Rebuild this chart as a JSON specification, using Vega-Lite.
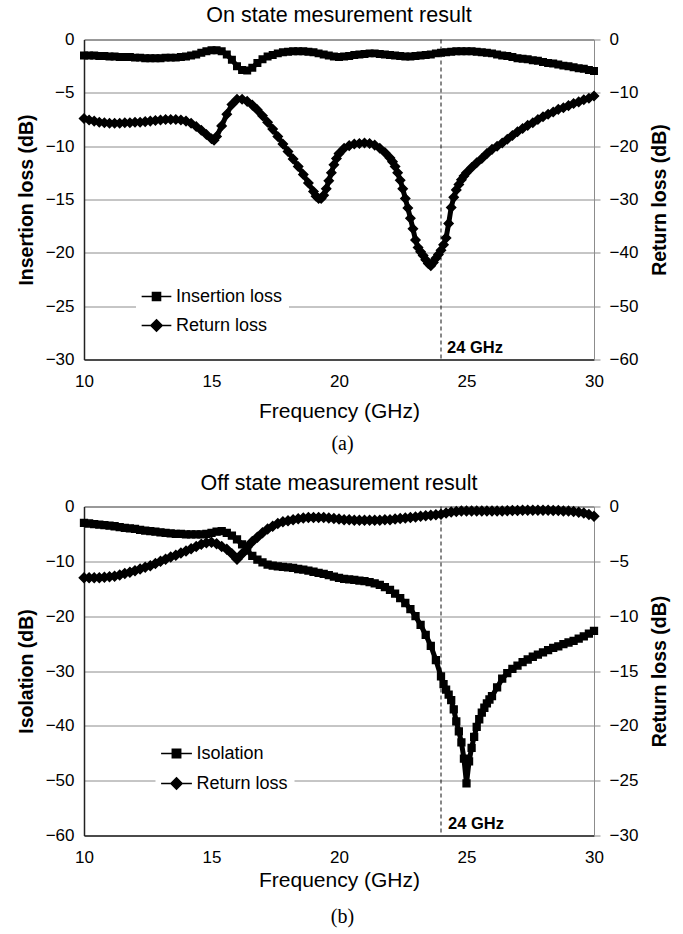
{
  "$schema": "https://vega.github.io/schema/vega-lite/v6.json",
  "background": "white",
  "padding": {"left": 16, "top": 4.5, "right": 5, "bottom": 5},
  "config": {
    "view": {"stroke": null},
    "font": "Liberation Sans",
    "axis": {"labelColor": "black", "titleColor": "black", "labelFont": "Liberation Sans", "titleFont": "Liberation Sans"},
    "title": {"fontSize": 21.5, "fontWeight": "normal", "color": "black", "font": "Liberation Sans"}
  },
  "datasets": {
    "a_il": [
      {"f":10.0,"v":-1.5},{"f":10.2,"v":-1.5},{"f":10.4,"v":-1.5},{"f":10.6,"v":-1.55},{"f":10.8,"v":-1.55},
      {"f":11.0,"v":-1.6},{"f":11.2,"v":-1.6},{"f":11.4,"v":-1.65},{"f":11.6,"v":-1.65},{"f":11.8,"v":-1.65},
      {"f":12.0,"v":-1.7},{"f":12.2,"v":-1.7},{"f":12.4,"v":-1.75},{"f":12.6,"v":-1.75},{"f":12.8,"v":-1.75},
      {"f":13.0,"v":-1.75},{"f":13.2,"v":-1.7},{"f":13.4,"v":-1.7},{"f":13.6,"v":-1.7},{"f":13.8,"v":-1.65},
      {"f":14.0,"v":-1.6},{"f":14.2,"v":-1.5},{"f":14.4,"v":-1.4},{"f":14.6,"v":-1.25},{"f":14.8,"v":-1.1},
      {"f":15.0,"v":-1.0},{"f":15.2,"v":-1.0},{"f":15.4,"v":-1.1},{"f":15.6,"v":-1.4},{"f":15.8,"v":-1.9},
      {"f":16.0,"v":-2.5},{"f":16.2,"v":-2.85},{"f":16.4,"v":-2.9},{"f":16.6,"v":-2.65},{"f":16.8,"v":-2.2},
      {"f":17.0,"v":-1.85},{"f":17.2,"v":-1.6},{"f":17.4,"v":-1.45},{"f":17.6,"v":-1.3},{"f":17.8,"v":-1.2},
      {"f":18.0,"v":-1.15},{"f":18.2,"v":-1.1},{"f":18.4,"v":-1.1},{"f":18.6,"v":-1.1},{"f":18.8,"v":-1.15},
      {"f":19.0,"v":-1.2},{"f":19.2,"v":-1.3},{"f":19.4,"v":-1.4},{"f":19.6,"v":-1.5},{"f":19.8,"v":-1.6},
      {"f":20.0,"v":-1.65},{"f":20.2,"v":-1.6},{"f":20.4,"v":-1.55},{"f":20.6,"v":-1.45},{"f":20.8,"v":-1.4},
      {"f":21.0,"v":-1.35},{"f":21.2,"v":-1.3},{"f":21.4,"v":-1.3},{"f":21.6,"v":-1.35},{"f":21.8,"v":-1.4},
      {"f":22.0,"v":-1.45},{"f":22.2,"v":-1.5},{"f":22.4,"v":-1.55},{"f":22.6,"v":-1.6},{"f":22.8,"v":-1.6},
      {"f":23.0,"v":-1.55},{"f":23.2,"v":-1.5},{"f":23.4,"v":-1.45},{"f":23.6,"v":-1.4},{"f":23.8,"v":-1.3},
      {"f":24.0,"v":-1.25},{"f":24.2,"v":-1.2},{"f":24.4,"v":-1.15},{"f":24.6,"v":-1.1},{"f":24.8,"v":-1.1},
      {"f":25.0,"v":-1.1},{"f":25.2,"v":-1.1},{"f":25.4,"v":-1.15},{"f":25.6,"v":-1.2},{"f":25.8,"v":-1.25},
      {"f":26.0,"v":-1.3},{"f":26.2,"v":-1.4},{"f":26.4,"v":-1.5},{"f":26.6,"v":-1.55},{"f":26.8,"v":-1.65},
      {"f":27.0,"v":-1.75},{"f":27.2,"v":-1.8},{"f":27.4,"v":-1.85},{"f":27.6,"v":-1.95},{"f":27.8,"v":-2.0},
      {"f":28.0,"v":-2.1},{"f":28.2,"v":-2.2},{"f":28.4,"v":-2.25},{"f":28.6,"v":-2.35},{"f":28.8,"v":-2.45},
      {"f":29.0,"v":-2.5},{"f":29.2,"v":-2.6},{"f":29.4,"v":-2.7},{"f":29.6,"v":-2.75},{"f":29.8,"v":-2.85},
      {"f":30.0,"v":-2.95}
    ],
    "a_rl": [
      {"f":10.0,"v":-14.8},{"f":10.2,"v":-15.1},{"f":10.4,"v":-15.3},{"f":10.6,"v":-15.5},{"f":10.8,"v":-15.6},
      {"f":11.0,"v":-15.7},{"f":11.2,"v":-15.7},{"f":11.4,"v":-15.7},{"f":11.6,"v":-15.6},{"f":11.8,"v":-15.6},
      {"f":12.0,"v":-15.5},{"f":12.2,"v":-15.5},{"f":12.4,"v":-15.4},{"f":12.6,"v":-15.3},{"f":12.8,"v":-15.2},
      {"f":13.0,"v":-15.1},{"f":13.2,"v":-15.0},{"f":13.4,"v":-15.0},{"f":13.6,"v":-15.0},{"f":13.8,"v":-15.1},
      {"f":14.0,"v":-15.3},{"f":14.2,"v":-15.7},{"f":14.4,"v":-16.3},{"f":14.6,"v":-17.0},{"f":14.8,"v":-17.8},
      {"f":15.0,"v":-18.6},{"f":15.1,"v":-18.9},{"f":15.2,"v":-18.2},{"f":15.4,"v":-16.2},{"f":15.6,"v":-14.0},
      {"f":15.8,"v":-12.2},{"f":16.0,"v":-11.2},{"f":16.2,"v":-11.2},{"f":16.4,"v":-11.6},{"f":16.6,"v":-12.3},
      {"f":16.8,"v":-13.2},{"f":17.0,"v":-14.3},{"f":17.2,"v":-15.5},{"f":17.4,"v":-16.8},{"f":17.6,"v":-18.2},
      {"f":17.8,"v":-19.6},{"f":18.0,"v":-21.0},{"f":18.2,"v":-22.4},{"f":18.4,"v":-23.8},{"f":18.6,"v":-25.3},
      {"f":18.8,"v":-26.9},{"f":19.0,"v":-28.5},{"f":19.1,"v":-29.4},{"f":19.2,"v":-29.8},{"f":19.3,"v":-29.8},
      {"f":19.4,"v":-29.2},{"f":19.5,"v":-28.0},{"f":19.6,"v":-26.5},{"f":19.7,"v":-25.0},{"f":19.8,"v":-23.5},
      {"f":19.9,"v":-22.3},{"f":20.0,"v":-21.4},{"f":20.2,"v":-20.4},{"f":20.4,"v":-19.9},{"f":20.6,"v":-19.6},
      {"f":20.8,"v":-19.5},{"f":21.0,"v":-19.4},{"f":21.2,"v":-19.5},{"f":21.4,"v":-19.8},{"f":21.6,"v":-20.4},
      {"f":21.8,"v":-21.2},{"f":22.0,"v":-22.2},{"f":22.1,"v":-22.9},{"f":22.2,"v":-23.8},{"f":22.3,"v":-25.0},
      {"f":22.4,"v":-26.4},{"f":22.5,"v":-28.0},{"f":22.6,"v":-29.8},{"f":22.7,"v":-31.6},{"f":22.8,"v":-33.5},
      {"f":22.9,"v":-35.5},{"f":23.0,"v":-37.6},{"f":23.1,"v":-39.0},{"f":23.2,"v":-39.8},{"f":23.3,"v":-40.5},
      {"f":23.4,"v":-41.3},{"f":23.5,"v":-42.0},{"f":23.6,"v":-42.4},{"f":23.7,"v":-41.8},{"f":23.8,"v":-41.0},
      {"f":23.9,"v":-40.3},{"f":24.0,"v":-39.5},{"f":24.1,"v":-38.5},{"f":24.2,"v":-37.2},{"f":24.3,"v":-34.5},
      {"f":24.4,"v":-31.5},{"f":24.5,"v":-29.6},{"f":24.6,"v":-28.2},{"f":24.7,"v":-27.2},{"f":24.8,"v":-26.3},
      {"f":24.9,"v":-25.6},{"f":25.0,"v":-25.0},{"f":25.2,"v":-24.0},{"f":25.4,"v":-23.1},{"f":25.6,"v":-22.3},
      {"f":25.8,"v":-21.4},{"f":26.0,"v":-20.6},{"f":26.2,"v":-20.0},{"f":26.4,"v":-19.4},{"f":26.6,"v":-18.7},
      {"f":26.8,"v":-18.0},{"f":27.0,"v":-17.3},{"f":27.2,"v":-16.7},{"f":27.4,"v":-16.1},{"f":27.6,"v":-15.6},
      {"f":27.8,"v":-15.0},{"f":28.0,"v":-14.5},{"f":28.2,"v":-14.0},{"f":28.4,"v":-13.6},{"f":28.6,"v":-13.1},
      {"f":28.8,"v":-12.8},{"f":29.0,"v":-12.4},{"f":29.2,"v":-12.0},{"f":29.4,"v":-11.7},{"f":29.6,"v":-11.3},
      {"f":29.8,"v":-11.0},{"f":30.0,"v":-10.6}
    ],
    "b_iso": [
      {"f":10.0,"v":-3.0},{"f":10.2,"v":-3.1},{"f":10.4,"v":-3.2},{"f":10.6,"v":-3.3},{"f":10.8,"v":-3.4},
      {"f":11.0,"v":-3.5},{"f":11.2,"v":-3.6},{"f":11.4,"v":-3.75},{"f":11.6,"v":-3.9},{"f":11.8,"v":-4.0},
      {"f":12.0,"v":-4.1},{"f":12.2,"v":-4.25},{"f":12.4,"v":-4.4},{"f":12.6,"v":-4.5},{"f":12.8,"v":-4.6},
      {"f":13.0,"v":-4.7},{"f":13.2,"v":-4.8},{"f":13.4,"v":-4.9},{"f":13.6,"v":-5.0},{"f":13.8,"v":-5.0},
      {"f":14.0,"v":-5.1},{"f":14.2,"v":-5.1},{"f":14.4,"v":-5.1},{"f":14.6,"v":-5.1},{"f":14.8,"v":-5.0},
      {"f":15.0,"v":-4.8},{"f":15.2,"v":-4.6},{"f":15.4,"v":-4.5},{"f":15.6,"v":-4.8},{"f":15.8,"v":-5.3},
      {"f":16.0,"v":-6.0},{"f":16.2,"v":-6.9},{"f":16.4,"v":-8.0},{"f":16.6,"v":-9.0},{"f":16.8,"v":-9.7},
      {"f":17.0,"v":-10.2},{"f":17.2,"v":-10.6},{"f":17.4,"v":-10.8},{"f":17.6,"v":-10.9},{"f":17.8,"v":-11.0},
      {"f":18.0,"v":-11.1},{"f":18.2,"v":-11.2},{"f":18.4,"v":-11.4},{"f":18.6,"v":-11.5},{"f":18.8,"v":-11.7},
      {"f":19.0,"v":-11.9},{"f":19.2,"v":-12.1},{"f":19.4,"v":-12.3},{"f":19.6,"v":-12.5},{"f":19.8,"v":-12.8},
      {"f":20.0,"v":-13.0},{"f":20.2,"v":-13.2},{"f":20.4,"v":-13.3},{"f":20.6,"v":-13.4},{"f":20.8,"v":-13.5},
      {"f":21.0,"v":-13.6},{"f":21.2,"v":-13.8},{"f":21.4,"v":-14.0},{"f":21.6,"v":-14.3},{"f":21.8,"v":-14.7},
      {"f":22.0,"v":-15.2},{"f":22.2,"v":-15.9},{"f":22.4,"v":-16.7},{"f":22.6,"v":-17.6},{"f":22.8,"v":-18.7},
      {"f":23.0,"v":-20.0},{"f":23.2,"v":-21.6},{"f":23.4,"v":-23.4},{"f":23.6,"v":-25.4},{"f":23.8,"v":-28.0},
      {"f":24.0,"v":-31.0},{"f":24.1,"v":-32.4},{"f":24.2,"v":-33.4},{"f":24.3,"v":-34.3},{"f":24.4,"v":-35.3},
      {"f":24.5,"v":-37.0},{"f":24.6,"v":-39.2},{"f":24.7,"v":-41.0},{"f":24.8,"v":-43.0},{"f":24.9,"v":-46.0},
      {"f":25.0,"v":-50.5},{"f":25.1,"v":-46.5},{"f":25.2,"v":-44.0},{"f":25.3,"v":-42.0},{"f":25.4,"v":-40.2},
      {"f":25.5,"v":-38.8},{"f":25.6,"v":-37.6},{"f":25.7,"v":-36.7},{"f":25.8,"v":-35.9},{"f":25.9,"v":-35.2},
      {"f":26.0,"v":-34.6},{"f":26.2,"v":-33.0},{"f":26.4,"v":-31.4},{"f":26.6,"v":-30.4},{"f":26.8,"v":-29.6},
      {"f":27.0,"v":-29.0},{"f":27.2,"v":-28.4},{"f":27.4,"v":-27.9},{"f":27.6,"v":-27.4},{"f":27.8,"v":-27.0},
      {"f":28.0,"v":-26.6},{"f":28.2,"v":-26.2},{"f":28.4,"v":-25.8},{"f":28.6,"v":-25.5},{"f":28.8,"v":-25.1},
      {"f":29.0,"v":-24.8},{"f":29.2,"v":-24.5},{"f":29.4,"v":-24.1},{"f":29.6,"v":-23.7},{"f":29.8,"v":-23.2},
      {"f":30.0,"v":-22.7}
    ],
    "b_rl": [
      {"f":10.0,"v":-6.5},{"f":10.2,"v":-6.5},{"f":10.4,"v":-6.5},{"f":10.6,"v":-6.5},{"f":10.8,"v":-6.45},
      {"f":11.0,"v":-6.4},{"f":11.2,"v":-6.35},{"f":11.4,"v":-6.25},{"f":11.6,"v":-6.1},{"f":11.8,"v":-6.0},
      {"f":12.0,"v":-5.85},{"f":12.2,"v":-5.7},{"f":12.4,"v":-5.55},{"f":12.6,"v":-5.4},{"f":12.8,"v":-5.2},
      {"f":13.0,"v":-5.0},{"f":13.2,"v":-4.8},{"f":13.4,"v":-4.6},{"f":13.6,"v":-4.45},{"f":13.8,"v":-4.25},
      {"f":14.0,"v":-4.05},{"f":14.2,"v":-3.85},{"f":14.4,"v":-3.65},{"f":14.6,"v":-3.45},{"f":14.8,"v":-3.3},
      {"f":15.0,"v":-3.25},{"f":15.2,"v":-3.4},{"f":15.4,"v":-3.65},{"f":15.6,"v":-3.9},{"f":15.8,"v":-4.3},
      {"f":16.0,"v":-4.8},{"f":16.2,"v":-4.3},{"f":16.4,"v":-3.7},{"f":16.6,"v":-3.2},{"f":16.8,"v":-2.8},
      {"f":17.0,"v":-2.4},{"f":17.2,"v":-2.05},{"f":17.4,"v":-1.8},{"f":17.6,"v":-1.55},{"f":17.8,"v":-1.4},
      {"f":18.0,"v":-1.3},{"f":18.2,"v":-1.2},{"f":18.4,"v":-1.12},{"f":18.6,"v":-1.05},{"f":18.8,"v":-1.0},
      {"f":19.0,"v":-1.0},{"f":19.2,"v":-1.0},{"f":19.4,"v":-1.0},{"f":19.6,"v":-1.05},{"f":19.8,"v":-1.1},
      {"f":20.0,"v":-1.15},{"f":20.2,"v":-1.2},{"f":20.4,"v":-1.2},{"f":20.6,"v":-1.25},{"f":20.8,"v":-1.25},
      {"f":21.0,"v":-1.25},{"f":21.2,"v":-1.25},{"f":21.4,"v":-1.25},{"f":21.6,"v":-1.25},{"f":21.8,"v":-1.2},
      {"f":22.0,"v":-1.2},{"f":22.2,"v":-1.15},{"f":22.4,"v":-1.1},{"f":22.6,"v":-1.05},{"f":22.8,"v":-1.0},
      {"f":23.0,"v":-0.95},{"f":23.2,"v":-0.9},{"f":23.4,"v":-0.85},{"f":23.6,"v":-0.8},{"f":23.8,"v":-0.75},
      {"f":24.0,"v":-0.7},{"f":24.2,"v":-0.6},{"f":24.4,"v":-0.5},{"f":24.6,"v":-0.45},{"f":24.8,"v":-0.4},
      {"f":25.0,"v":-0.4},{"f":25.2,"v":-0.4},{"f":25.4,"v":-0.4},{"f":25.6,"v":-0.4},{"f":25.8,"v":-0.4},
      {"f":26.0,"v":-0.4},{"f":26.2,"v":-0.4},{"f":26.4,"v":-0.4},{"f":26.6,"v":-0.38},{"f":26.8,"v":-0.37},
      {"f":27.0,"v":-0.36},{"f":27.2,"v":-0.35},{"f":27.4,"v":-0.35},{"f":27.6,"v":-0.35},{"f":27.8,"v":-0.35},
      {"f":28.0,"v":-0.35},{"f":28.2,"v":-0.35},{"f":28.4,"v":-0.36},{"f":28.6,"v":-0.37},{"f":28.8,"v":-0.4},
      {"f":29.0,"v":-0.42},{"f":29.2,"v":-0.46},{"f":29.4,"v":-0.52},{"f":29.6,"v":-0.6},{"f":29.8,"v":-0.72},
      {"f":30.0,"v":-0.9}
    ]
  },
  "spacing": 19,
  "resolve": {"scale": {"stroke": "independent"}, "legend": {"stroke": "independent"}},
  "vconcat": [
    {
      "title": {"text": "(a)", "orient": "bottom", "anchor": "middle", "frame": "bounds", "font": "Liberation Serif", "fontSize": 20, "fontWeight": "normal", "offset": 12},
      "resolve": {"scale": {"stroke": "independent"}, "legend": {"stroke": "independent"}},
      "vconcat": [
        {
          "width": 510,
          "height": 320,
          "title": {"text": "On state mesurement result", "offset": 4.5},
          "encoding": {
            "x": {"field": "f", "type": "quantitative",
              "scale": {"domain": [10, 30], "nice": false, "zero": false},
              "axis": {"values": [10, 15, 20, 25, 30], "grid": false, "ticks": false, "tickSize": 0, "labelFlush": false, "domainColor": "#222", "domainWidth": 1.5, "labelPadding": 14, "labelFontSize": 17, "title": "Frequency (GHz)", "titleFontSize": 21, "titleFontWeight": "normal", "titlePadding": 11}}
          },
          "layer": [
            {"data": {"values": [{"f": 24}]}, "mark": {"type": "rule", "color": "#111", "strokeDash": [4, 3], "strokeWidth": 1}, "encoding": {}},
            {
              "encoding": {
                "y": {"field": "v", "type": "quantitative",
                  "scale": {"domain": [-30, 0], "nice": false, "zero": false},
                  "axis": {"orient": "left", "values": [-30, -25, -20, -15, -10, -5, 0], "grid": true,
                    "gridColor": {"condition": {"test": "datum.value === 0", "value": "#333"}, "value": "#8c8c8c"},
                    "ticks": false, "tickSize": 0, "domainColor": "#222", "domainWidth": 1.5,
                    "labelPadding": 10, "labelFontSize": 17, "title": "Insertion loss (dB)", "titleFontSize": 19.5, "titleFontWeight": "bold", "titlePadding": 9}}
              },
              "layer": [
                {"data": {"values": [{"f": 24, "v": -28.95, "t": "24 GHz"}]}, "mark": {"type": "text", "align": "left", "baseline": "middle", "dx": 6, "fontSize": 16.5, "fontWeight": "bold", "color": "black"}, "encoding": {"text": {"field": "t"}}},
                {"data": {"name": "a_il"}, "mark": {"type": "line", "color": "black", "strokeWidth": 5, "strokeJoin": "round"}},
                {"data": {"name": "a_il"}, "mark": {"type": "point", "filled": true, "color": "black", "shape": "square", "size": 42, "strokeWidth": 1.5, "opacity": 1},
                  "encoding": {"stroke": {"datum": "Insertion loss", "type": "nominal",
                    "scale": {"domain": ["Insertion loss", "Return loss"], "range": ["black", "black"]},
                    "legend": {"orient": "none", "legendX": 52, "legendY": 236.5, "title": null, "fillColor": "white", "padding": 6, "labelFontSize": 18, "labelColor": "black", "labelOffset": 5, "symbolSize": 729, "symbolStrokeWidth": 1.5, "symbolStrokeColor": "black", "symbolFillColor": "black", "rowPadding": 5,
                      "symbolType": {"expr": "datum.value === 'Insertion loss' ? 'M-1.1,0H1.1M-0.3,-0.3H0.3V0.3H-0.3Z' : 'M-1.1,0H1.1M0,-0.42L0.42,0L0,0.42L-0.42,0Z'"}}}}}
              ]
            },
            {
              "encoding": {
                "y": {"field": "v", "type": "quantitative",
                  "scale": {"domain": [-60, 0], "nice": false, "zero": false},
                  "axis": {"orient": "right", "values": [-60, -50, -40, -30, -20, -10, 0], "grid": false,
                    "ticks": true, "tickSize": 6, "tickColor": "#8c8c8c", "domainColor": "#8c8c8c", "domainWidth": 1,
                    "labelPadding": 9, "labelFontSize": 17, "title": "Return loss (dB)", "titleFontSize": 19.5, "titleFontWeight": "bold", "titleAngle": 270, "titleBaseline": "top", "titlePadding": 12.5}}
              },
              "layer": [
                {"data": {"name": "a_rl"}, "mark": {"type": "line", "color": "black", "strokeWidth": 5, "strokeJoin": "round"}},
                {"data": {"name": "a_rl"}, "mark": {"type": "point", "filled": true, "color": "black", "shape": "diamond", "size": 80, "strokeWidth": 1.5, "opacity": 1},
                  "encoding": {"stroke": {"datum": "Return loss", "type": "nominal",
                    "scale": {"domain": ["Insertion loss", "Return loss"], "range": ["black", "black"]},
                    "legend": null}}}
              ]
            }
          ],
          "resolve": {"scale": {"y": "independent"}}
        }
      ]
    },
    {
      "title": {"text": "(b)", "orient": "bottom", "anchor": "middle", "frame": "bounds", "font": "Liberation Serif", "fontSize": 20, "fontWeight": "normal", "offset": 16},
      "resolve": {"scale": {"stroke": "independent"}, "legend": {"stroke": "independent"}},
      "vconcat": [
        {
          "width": 510,
          "height": 329,
          "title": {"text": "Off state measurement result", "offset": 3},
          "encoding": {
            "x": {"field": "f", "type": "quantitative",
              "scale": {"domain": [10, 30], "nice": false, "zero": false},
              "axis": {"values": [10, 15, 20, 25, 30], "grid": false, "ticks": false, "tickSize": 0, "labelFlush": false, "domainColor": "#222", "domainWidth": 1.5, "labelPadding": 14, "labelFontSize": 17, "title": "Frequency (GHz)", "titleFontSize": 21, "titleFontWeight": "normal", "titlePadding": 4}}
          },
          "layer": [
            {"data": {"values": [{"f": 24}]}, "mark": {"type": "rule", "color": "#111", "strokeDash": [4, 3], "strokeWidth": 1}, "encoding": {}},
            {
              "encoding": {
                "y": {"field": "v", "type": "quantitative",
                  "scale": {"domain": [-60, 0], "nice": false, "zero": false},
                  "axis": {"orient": "left", "values": [-60, -50, -40, -30, -20, -10, 0], "grid": true,
                    "gridColor": {"condition": {"test": "datum.value === 0", "value": "#333"}, "value": "#8c8c8c"},
                    "ticks": false, "tickSize": 0, "domainColor": "#222", "domainWidth": 1.5,
                    "labelPadding": 10, "labelFontSize": 17, "title": "Isolation (dB)", "titleFontSize": 19.5, "titleFontWeight": "bold", "titlePadding": 9}}
              },
              "layer": [
                {"data": {"values": [{"f": 24, "v": -57.9, "t": "24 GHz"}]}, "mark": {"type": "text", "align": "left", "baseline": "middle", "dx": 7, "fontSize": 16.5, "fontWeight": "bold", "color": "black"}, "encoding": {"text": {"field": "t"}}},
                {"data": {"name": "b_iso"}, "mark": {"type": "line", "color": "black", "strokeWidth": 5, "strokeJoin": "round"}},
                {"data": {"name": "b_iso"}, "mark": {"type": "point", "filled": true, "color": "black", "shape": "square", "size": 46, "strokeWidth": 1.5, "opacity": 1},
                  "encoding": {"stroke": {"datum": "Isolation", "type": "nominal",
                    "scale": {"domain": ["Isolation", "Return loss"], "range": ["black", "black"]},
                    "legend": {"orient": "none", "legendX": 71.5, "legendY": 226, "title": null, "fillColor": "white", "padding": 6, "labelFontSize": 18, "labelColor": "black", "labelOffset": 5, "symbolSize": 784, "symbolStrokeWidth": 1.5, "symbolStrokeColor": "black", "symbolFillColor": "black", "rowPadding": 6,
                      "symbolType": {"expr": "datum.value === 'Isolation' ? 'M-1.1,0H1.1M-0.3,-0.3H0.3V0.3H-0.3Z' : 'M-1.1,0H1.1M0,-0.4L0.4,0L0,0.4L-0.4,0Z'"}}}}}
              ]
            },
            {
              "encoding": {
                "y": {"field": "v", "type": "quantitative",
                  "scale": {"domain": [-30, 0], "nice": false, "zero": false},
                  "axis": {"orient": "right", "values": [-30, -25, -20, -15, -10, -5, 0], "grid": false,
                    "ticks": true, "tickSize": 6, "tickColor": "#8c8c8c", "domainColor": "#8c8c8c", "domainWidth": 1,
                    "labelPadding": 9, "labelFontSize": 17, "title": "Return loss (dB)", "titleFontSize": 19.5, "titleFontWeight": "bold", "titleAngle": 270, "titleBaseline": "top", "titlePadding": 12.5}}
              },
              "layer": [
                {"data": {"name": "b_rl"}, "mark": {"type": "line", "color": "black", "strokeWidth": 5, "strokeJoin": "round"}},
                {"data": {"name": "b_rl"}, "mark": {"type": "point", "filled": true, "color": "black", "shape": "diamond", "size": 88, "strokeWidth": 1.5, "opacity": 1},
                  "encoding": {"stroke": {"datum": "Return loss", "type": "nominal",
                    "scale": {"domain": ["Isolation", "Return loss"], "range": ["black", "black"]},
                    "legend": null}}}
              ]
            }
          ],
          "resolve": {"scale": {"y": "independent"}}
        }
      ]
    }
  ]
}
